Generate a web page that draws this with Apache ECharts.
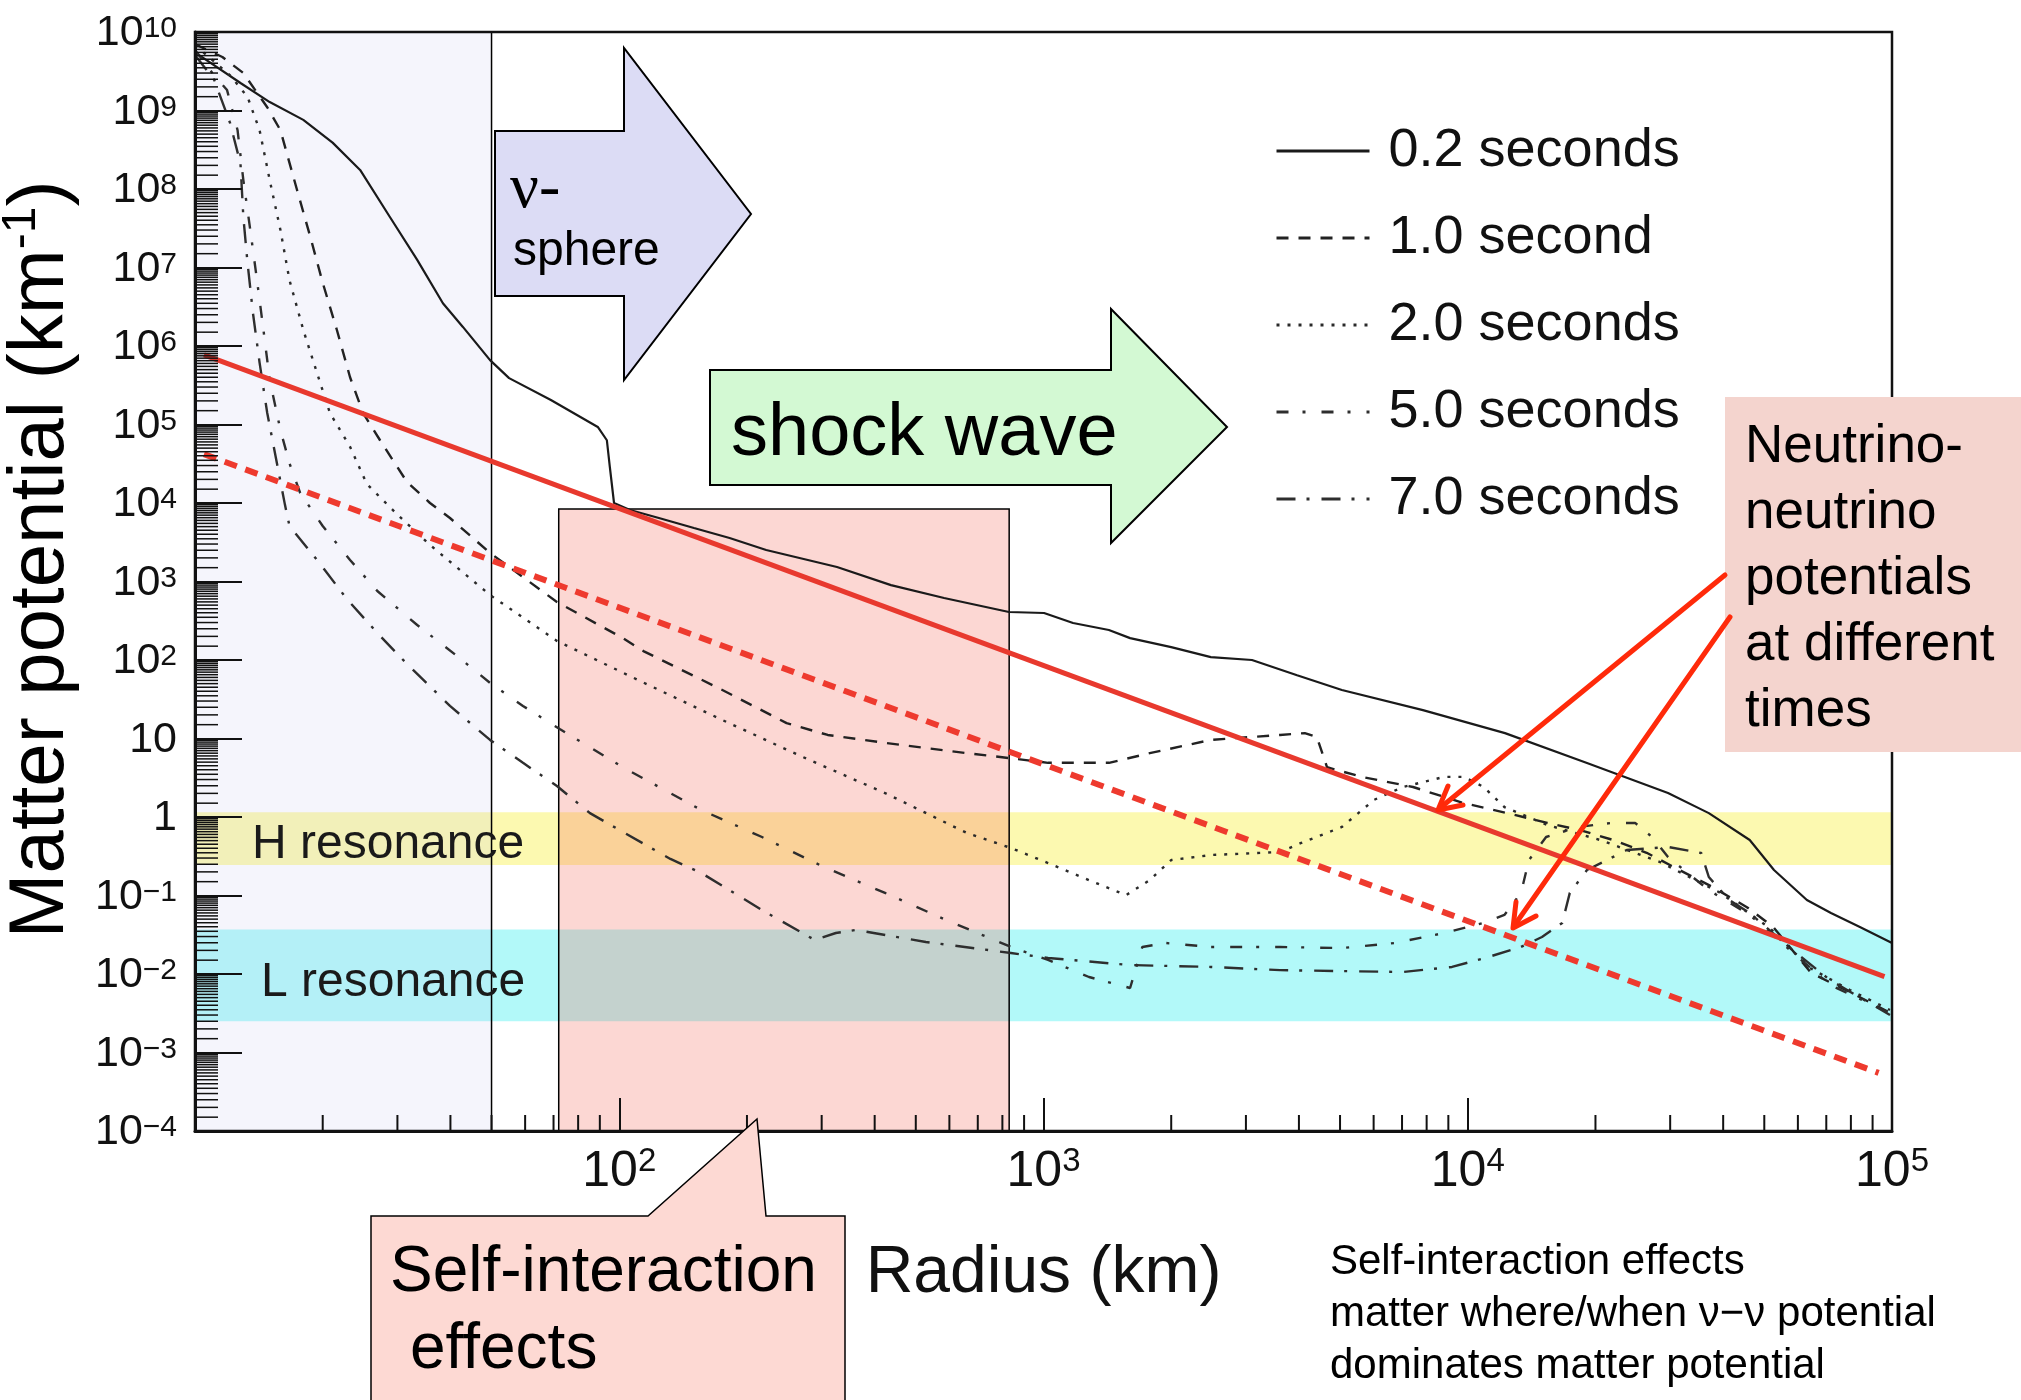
<!DOCTYPE html>
<html><head><meta charset="utf-8">
<script src="https://cdn.jsdelivr.net/npm/echarts@6/dist/echarts.min.js"></script>
<style>html,body{margin:0;padding:0;background:#fff}#c{width:2021px;height:1400px}</style>
</head><body><div id="c"></div><script>
const FONT = '"Liberation Sans", Arial, Helvetica, sans-serif';
// ---- legend names ----
const seriesNames = ['0.2 seconds', '1.0 second', '2.0 seconds', '5.0 seconds', '7.0 seconds'];
// ---- matter potential curves [radius km, potential km^-1] ----
const t02 = [[10,5.5e9],[12.8,2.24e9],[15.0,1.28e9],[18.0,7.6e8],[21.1,3.9e8],[24.5,1.75e8],[28.8,4.4e7],[33.4,1.25e7],[38.4,3.5e6],[42.8,1.75e6],[49.6,6.6e5],[55,3.9e5],[69,2.05e5],[89,9.3e4],[93.5,6.3e4],[95,2.9e4],[97.2,1.0e4],[106,8150],[124,6440],[150,4800],[182,3580],[222,2520],[326,1530],[437,900],[583,617],[829,409],[1003,397],[1174,296],[1426,241],[1600,190],[2000,146],[2480,109],[3100,100],[3960,64],[5050,41.5],[7840,23],[12240,11.7],[19100,4.87],[29650,2.02],[37000,1.12],[46200,0.51],[52700,0.211],[63000,0.0877],[71800,0.0598],[84000,0.0397],[100000,0.0248]];
const t10 = [[10,7e9],[11.6,4.8e9],[13.0,3.0e9],[14.8,1.1e9],[15.9,5.6e8],[17.4,9.7e7],[18.7,2.45e7],[20,6.4e6],[21.6,1.6e6],[23.2,4.0e5],[24.9,1.4e5],[27.3,6.3e4],[31.6,1.85e4],[35.8,1.0e4],[39.9,6440],[49.6,2310],[71.3,548],[102,190],[114,130],[175,41.5],[248,15.7],[310,11.1],[423,8.8],[660,6.5],[838,5.6],[1025,4.9],[1427,4.9],[1780,6.5],[2480,9.6],[3610,11.1],[4130,11.7],[4410,10.4],[4660,4.3],[5630,3.24],[7430,2.41],[9750,1.51],[12400,1.12],[15400,0.84],[18400,0.68],[22000,0.51],[26400,0.35],[31600,0.21],[37800,0.128],[45500,0.071],[52400,0.040],[64500,0.0103],[80500,0.0057],[98900,0.0032]];
const t20 = [[10,6.8e9],[12.1,2.8e9],[13.3,1.49e9],[14.2,5.6e8],[15.0,1.3e8],[15.9,3.0e7],[16.7,6.9e6],[18.0,1.6e6],[19.4,4.5e5],[20.8,1.4e5],[23.2,5.2e4],[25.4,1.75e4],[29.9,7240],[35.8,2920],[49.6,673],[71.3,175],[112,54],[175,17.2],[271,5.8],[423,2.02],[660,0.625],[838,0.403],[1025,0.259],[1280,0.157],[1565,0.101],[1780,0.157],[2000,0.283],[2480,0.328],[3610,0.358],[4050,0.467],[5050,0.746],[6010,1.65],[7030,2.41],[8790,3.24],[9800,3.24],[10900,2.41],[12200,1.34],[15400,0.79],[20500,0.51],[28400,0.267],[39400,0.108],[51500,0.0385],[64100,0.0119],[79600,0.00625],[98900,0.00348]];
const t50 = [[10,5.9e9],[11.1,2.8e9],[11.9,1.82e9],[12.6,5.6e8],[13.0,1.3e8],[13.5,3.0e7],[14.0,6.9e6],[14.5,1.6e6],[15.0,3.7e5],[15.9,8.5e4],[16.7,3.2e4],[17.7,1.34e4],[20,5100],[23.2,1880],[26.9,757],[33.4,279],[41.5,112],[49.6,51],[59.3,26],[72.4,13.2],[102,4.3],[156,1.23],[217,0.556],[304,0.23],[423,0.108],[589,0.0488],[736,0.0296],[838,0.0221],[1025,0.0151],[1280,0.00916],[1600,0.00663],[1710,0.0221],[1945,0.0248],[2480,0.0221],[3610,0.0221],[5050,0.0214],[6740,0.0248],[8790,0.0333],[10900,0.0447],[12200,0.0565],[13350,0.108],[13940,0.283],[15300,0.556],[18200,0.746],[21800,0.84],[24800,0.84],[27200,0.556],[29650,0.309],[37000,0.117],[46200,0.0565],[57500,0.0202],[71400,0.00724],[98900,0.00318]];
const t70 = [[10,5.1e9],[11.1,2.45e9],[12.1,6.9e8],[12.8,2.1e8],[13.0,4.4e7],[13.3,1.14e7],[13.7,2.6e6],[14.2,6.1e5],[14.8,1.4e5],[15.6,3.2e4],[16.3,9400],[16.7,5100],[19.4,1880],[22.8,598],[26.9,221],[31.6,89],[39.9,26],[49.6,9.6],[59.3,4.9],[71.3,2.48],[85.3,1.12],[102,0.644],[132,0.292],[156,0.194],[217,0.0653],[289,0.0271],[324,0.0333],[361,0.0364],[528,0.0256],[838,0.0185],[1025,0.016],[1600,0.013],[2480,0.0123],[3610,0.0112],[7030,0.0106],[9180,0.0123],[11200,0.0165],[13350,0.0221],[14960,0.0296],[16700,0.0447],[17400,0.108],[19100,0.211],[21300,0.283],[23700,0.38],[29650,0.415],[35500,0.348],[37000,0.172],[41300,0.0877],[46200,0.0598],[57500,0.0214],[71400,0.0084],[98900,0.003]];
// ---- neutrino-neutrino potentials (straight power laws) ----
const nuNuEarly = [[10.5,7.7e5],[96000,9.25e-3]];
const nuNuLate = [[10.5,4.2e4],[93000,5.5e-4]];
// ---- shaded regions ----
const hResonance = [0.245, 1.15];
const lResonance = [0.0025, 0.037];
const nuSphereRadius = [10, 50];
const selfInteractionRadius = [72, 830];
const selfInteractionTop = 8400;
// ---- axis ranges / minor tick multipliers ----
const xRange = [10, 1e5];
const yRange = [1e-4, 1e10];
const yMinorMult = [1.5,2,2.5,3,3.5,4,4.5,5,5.5,6,6.5,7,7.5,8,8.5,9,9.5];
const xMinorMult = [2,3,4,5,6,7,8,9];

const yMinorTicks = [];
for (let e = -4; e < 10; e++) yMinorMult.forEach(k => yMinorTicks.push([10, k * Math.pow(10, e)]));
const xMinorTicks = [];
for (let e = 1; e < 5; e++) xMinorMult.forEach(k => xMinorTicks.push([k * Math.pow(10, e), 1e-4]));

function powLabel(v, hideTen) {
  const e = Math.round(Math.log10(v));
  if (e === 0) return '{b|1}';
  if (e === 1) return hideTen ? '' : '{b|10}';
  return '{b|10}{s|' + (e < 0 ? '\u2212' + (-e) : e) + '}';
}

function curve(name, data, color, width, type, z) {
  return { name, type: 'line', data, symbol: 'none', showSymbol: false, z, silent: true,
    lineStyle: { color, width, type, cap: 'butt' }, itemStyle: { color } };
}

const chart = echarts.init(document.getElementById('c'), null, { renderer: 'canvas' });
const option = {
  animation: false,
  backgroundColor: '#ffffff',
  textStyle: { fontFamily: FONT },
  grid: { left: 195, right: 129, top: 32, bottom: 269, show: true, z: 10,
    borderColor: '#111', borderWidth: 2.5, backgroundColor: 'rgba(0,0,0,0)', outerBoundsMode: 'none' },
  legend: {
    data: seriesNames, orient: 'vertical', left: 1270, top: 116,
    itemWidth: 93, itemHeight: 14, itemGap: 27, selectedMode: false,
    itemStyle: { opacity: 0, borderWidth: 0 },
    lineStyle: { width: 3 },
    textStyle: { fontSize: 54, lineHeight: 60, color: '#111', fontFamily: FONT, padding: [0, 0, 0, 14] }
  },
  xAxis: {
    type: 'log', logBase: 10, min: xRange[0], max: xRange[1], splitNumber: 4, interval: 1, z: 10,
    axisLine: { show: true, onZero: false, lineStyle: { color: '#111', width: 3 } },
    axisTick: { show: true, inside: true, length: 33, lineStyle: { color: '#111', width: 2 } },
    splitLine: { show: false },
    axisLabel: { margin: 14, color: '#111', formatter: v => powLabel(v, true),
      rich: { b: { fontSize: 50, lineHeight: 52, padding: [12, 0, 0, 0], verticalAlign: 'bottom', fontFamily: FONT, color: '#111' },
              s: { fontSize: 33, lineHeight: 34, verticalAlign: 'top', fontFamily: FONT, color: '#111' } } },
    name: 'Radius (km)', nameLocation: 'middle', nameGap: 110,
    nameTextStyle: { fontSize: 66, color: '#111', fontFamily: FONT }
  },
  yAxis: {
    type: 'log', logBase: 10, min: yRange[0], max: yRange[1], splitNumber: 14, interval: 1, z: 10,
    axisLine: { show: true, onZero: false, lineStyle: { color: '#111', width: 3 } },
    axisTick: { show: true, inside: true, length: 47, lineStyle: { color: '#111', width: 2 } },
    splitLine: { show: false },
    axisLabel: { margin: 18, color: '#111', formatter: v => powLabel(v, false),
      rich: { b: { fontSize: 43, lineHeight: 46, padding: [24, 0, 0, 0], verticalAlign: 'bottom', fontFamily: FONT, color: '#111' },
              s: { fontSize: 30, lineHeight: 32, padding: [5, 0, 0, 0], verticalAlign: 'top', fontFamily: FONT, color: '#111' } } },
    name: 'Matter potential (km{s|-1})', nameLocation: 'middle', nameGap: 110, nameRotate: 90,
    nameTextStyle: { fontSize: 78, lineHeight: 86, color: '#000', fontFamily: FONT, padding: [0, 0, 0, 44],
      rich: { s: { fontSize: 48, lineHeight: 40, verticalAlign: 'top', color: '#000', fontFamily: FONT } } }
  },
  series: [
    { type: 'line', data: [], z: 1, silent: true,
      markArea: { silent: true, label: { show: false }, data: [
        [{ xAxis: xRange[0], yAxis: hResonance[1], itemStyle: { color: '#fcf9b0' } }, { xAxis: xRange[1], yAxis: hResonance[0] }],
        [{ xAxis: xRange[0], yAxis: lResonance[1], itemStyle: { color: '#b2f9f9' } }, { xAxis: xRange[1], yAxis: lResonance[0] }]
      ] } },
    { type: 'line', data: [], z: 2, silent: true,
      markArea: { silent: true, label: { show: false }, data: [
        [{ xAxis: nuSphereRadius[0], yAxis: yRange[1], itemStyle: { color: 'rgba(190,190,235,0.16)', borderColor: '#000', borderWidth: 1.5 } },
         { xAxis: nuSphereRadius[1], yAxis: yRange[0] }]
      ] } },
    curve(seriesNames[0], t02, '#1a1a1a', 2.2, 'solid', 3),
    curve(seriesNames[1], t10, '#222222', 2.4, [12, 10], 3),
    curve(seriesNames[2], t20, '#2a2a2a', 2.4, [3, 8], 3),
    curve(seriesNames[3], t50, '#2e2e2e', 2.4, [12, 14, 3, 16], 3),
    curve(seriesNames[4], t70, '#2e2e2e', 2.4, [19, 11, 3, 12], 3),
    { type: 'line', data: [], z: 4, silent: true,
      markArea: { silent: true, label: { show: false }, data: [
        [{ xAxis: selfInteractionRadius[0], yAxis: selfInteractionTop, itemStyle: { color: 'rgba(244,108,93,0.27)', borderColor: '#000', borderWidth: 1.5 } },
         { xAxis: selfInteractionRadius[1], yAxis: yRange[0] }]
      ] } },
    { name: 'nu-nu early', type: 'line', data: nuNuEarly, symbol: 'none', z: 5, silent: true,
      lineStyle: { color: '#e8392e', width: 5 } },
    { name: 'nu-nu late', type: 'line', data: nuNuLate, symbol: 'none', z: 5, silent: true,
      lineStyle: { color: '#ee3a2e', width: 6, type: [13, 9] } },
    { type: 'custom', data: yMinorTicks, z: 6, silent: true, clip: false,
      renderItem: (params, api) => {
        const cs = params.coordSys; const p = api.coord([api.value(0), api.value(1)]);
        return { type: 'line', shape: { x1: cs.x, y1: p[1], x2: cs.x + 23, y2: p[1] }, style: { stroke: '#111', lineWidth: 1.5 } };
      } },
    { type: 'custom', data: xMinorTicks, z: 6, silent: true, clip: false,
      renderItem: (params, api) => {
        const cs = params.coordSys; const p = api.coord([api.value(0), api.value(1)]);
        return { type: 'line', shape: { x1: p[0], y1: cs.y + cs.height, x2: p[0], y2: cs.y + cs.height - 16 }, style: { stroke: '#111', lineWidth: 2 } };
      } }
  ],
  graphic: [
    // nu-sphere arrow
    { type: 'polygon', z: 20, silent: true, shape: { points: [[495,131],[624,131],[624,48],[751,214],[624,380],[624,296],[495,296]] },
      style: { fill: '#dcdcf5', stroke: '#000', lineWidth: 2 } },
    { type: 'text', z: 21, x: 510, y: 190, silent: true, style: { text: '\u03bd-', font: '64px "Liberation Serif", "DejaVu Serif", serif', fill: '#000', verticalAlign: 'middle' } },
    { type: 'text', z: 21, x: 513, y: 252, silent: true, style: { text: 'sphere', font: '48px ' + FONT, fill: '#000', verticalAlign: 'middle' } },
    // shock wave arrow
    { type: 'polygon', z: 20, silent: true, shape: { points: [[710,370],[1111,370],[1111,309],[1227,427],[1111,543],[1111,485],[710,485]] },
      style: { fill: '#d3f9d3', stroke: '#000', lineWidth: 2 } },
    { type: 'text', z: 21, x: 731, y: 435, silent: true, style: { text: 'shock wave', font: '74px ' + FONT, fill: '#000', verticalAlign: 'middle' } },
    // resonance labels
    { type: 'text', z: 21, x: 252, y: 845, silent: true, style: { text: 'H resonance', font: '48px ' + FONT, fill: '#1a1a1a', verticalAlign: 'middle' } },
    { type: 'text', z: 21, x: 261, y: 983, silent: true, style: { text: 'L resonance', font: '48px ' + FONT, fill: '#1a1a1a', verticalAlign: 'middle' } },
    // neutrino box
    { type: 'rect', z: 20, silent: true, shape: { x: 1725, y: 397, width: 300, height: 355 }, style: { fill: '#f4d4ce' } },
    { type: 'text', z: 21, x: 1745, y: 414, silent: true, style: { text: 'Neutrino-\nneutrino\npotentials\nat different\ntimes', font: '53px ' + FONT, lineHeight: 66, fill: '#000', verticalAlign: 'top' } },
    // red arrows
    { type: 'polyline', z: 22, silent: true, shape: { points: [[1725,575],[1440,808]] }, style: { stroke: '#ff2a0a', lineWidth: 5, lineCap: 'round' } },
    { type: 'polyline', z: 22, silent: true, shape: { points: [[1448,786],[1438,810],[1463,805]] }, style: { stroke: '#ff2a0a', lineWidth: 5, lineCap: 'round', lineJoin: 'round', fill: null } },
    { type: 'polyline', z: 22, silent: true, shape: { points: [[1730,617],[1514,926]] }, style: { stroke: '#ff2a0a', lineWidth: 5, lineCap: 'round' } },
    { type: 'polyline', z: 22, silent: true, shape: { points: [[1516,902],[1513,928],[1536,916]] }, style: { stroke: '#ff2a0a', lineWidth: 5, lineCap: 'round', lineJoin: 'round', fill: null } },
    // self-interaction callout
    { type: 'polygon', z: 20, silent: true, shape: { points: [[371,1410],[371,1216],[648,1216],[757,1119],[766,1216],[845,1216],[845,1410]] },
      style: { fill: '#fdd9d3', stroke: '#000', lineWidth: 1.5 } },
    { type: 'text', z: 21, x: 390, y: 1273, silent: true, style: { text: 'Self-interaction', font: '64px ' + FONT, fill: '#000', verticalAlign: 'middle' } },
    { type: 'text', z: 21, x: 410, y: 1350, silent: true, style: { text: 'effects', font: '64px ' + FONT, fill: '#000', verticalAlign: 'middle' } },
    // bottom-right note
    { type: 'text', z: 21, x: 1330, y: 1236, silent: true, style: { text: 'Self-interaction effects\nmatter where/when \u03bd\u2212\u03bd potential\ndominates matter potential', font: '42px ' + FONT, lineHeight: 52, fill: '#000', verticalAlign: 'top' } }
  ]
};
chart.setOption(option);
</script></body></html>
